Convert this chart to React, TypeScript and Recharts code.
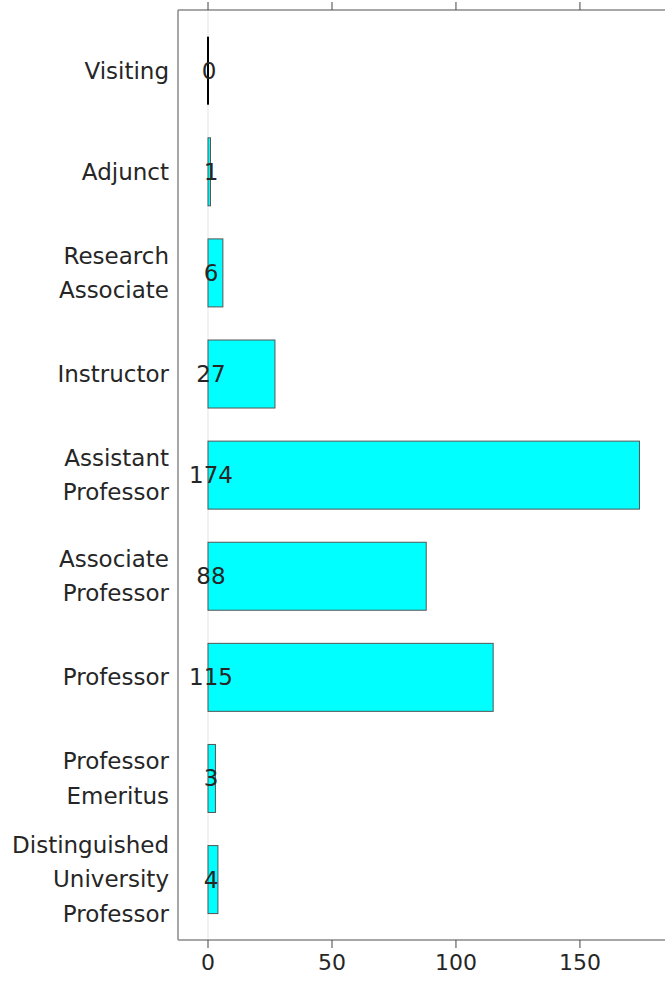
import { BarChart, Bar, XAxis, YAxis, CartesianGrid, LabelList } from 'recharts';

const categories = [
  'Visiting',
  'Adjunct',
  'Research Associate',
  'Instructor',
  'Assistant Professor',
  'Associate Professor',
  'Professor',
  'Professor Emeritus',
  'Distinguished University Professor',
];
const counts = [0, 1, 6, 27, 174, 88, 115, 3, 4];
const xTicks = [0, 50, 100, 150];

const data = categories.map((name, i) => ({ name, value: counts[i] }));

const FONT = '"DejaVu Sans", sans-serif';
const TEXT = '#262626';
const AXIS = '#8a8a8a';

// wrap category names one word per line, right aligned against the axis
const CategoryTick = (props: any) => {
  const { x, y, payload } = props;
  const lines = String(payload.value).split(' ');
  const lh = 34.5;
  const start = -((lines.length - 1) / 2) * lh;
  return (
    <text x={x} y={y} textAnchor="end" fill={TEXT} fontSize={23} fontFamily={FONT} dominantBaseline="central">
      {lines.map((l, i) => (
        <tspan key={i} x={x} y={y + start + i * lh}>
          {l}
        </tspan>
      ))}
    </text>
  );
};

// zero-width bars still show as a thin black line
const BarShape = (props: any) => {
  const { x, y, width, height } = props;
  if (!width || width < 0.5) {
    return <line x1={x} x2={x} y1={y} y2={y + height} stroke="#000" strokeWidth={2} />;
  }
  return <rect x={x} y={y} width={width} height={height} fill="#00ffff" stroke="#555" strokeWidth={1} />;
};

const ValueLabel = (props: any) => {
  const { x, y, height, value } = props;
  return (
    <text
      x={x + (value === 0 ? 1 : 3)}
      y={y + height / 2}
      textAnchor="middle"
      dominantBaseline="central"
      fill={TEXT}
      fontSize={23}
      fontFamily={FONT}
    >
      {value}
    </text>
  );
};

export default function App() {
  return (
    <div style={{ position: 'absolute', left: 0, top: 0, background: '#fff' }}>
      <BarChart
        width={665}
        height={987}
        data={data}
        layout="vertical"
        margin={{ top: 0, right: 0, bottom: 0, left: 0 }}
        barCategoryGap="16.5%"
      >
        <CartesianGrid horizontal={false} verticalValues={[0]} stroke="#ececec" strokeWidth={1.5} />
        <XAxis
          xAxisId="top"
          orientation="top"
          type="number"
          domain={[-12.1, 184.3]}
          ticks={xTicks}
          allowDataOverflow
          height={10}
          tickSize={8}
          tick={() => <g />}
          axisLine={{ stroke: AXIS, strokeWidth: 1.5 }}
          tickLine={{ stroke: '#444', strokeWidth: 1 }}
        />
        <XAxis
          type="number"
          domain={[-12.1, 184.3]}
          ticks={xTicks}
          allowDataOverflow
          height={47}
          tickSize={8}
          tickMargin={6}
          tick={{ fill: TEXT, fontSize: 22, fontFamily: FONT }}
          axisLine={{ stroke: AXIS, strokeWidth: 1.5 }}
          tickLine={{ stroke: '#444', strokeWidth: 1 }}
        />
        <YAxis
          type="category"
          dataKey="name"
          width={178}
          padding={{ top: 10, bottom: 10 }}
          tickLine={false}
          tickSize={0}
          tickMargin={9}
          tick={<CategoryTick />}
          axisLine={{ stroke: AXIS, strokeWidth: 1.5 }}
          interval={0}
        />
        <Bar dataKey="value" shape={<BarShape />} isAnimationActive={false}>
          <LabelList dataKey="value" content={<ValueLabel />} />
        </Bar>
      </BarChart>
    </div>
  );
}
